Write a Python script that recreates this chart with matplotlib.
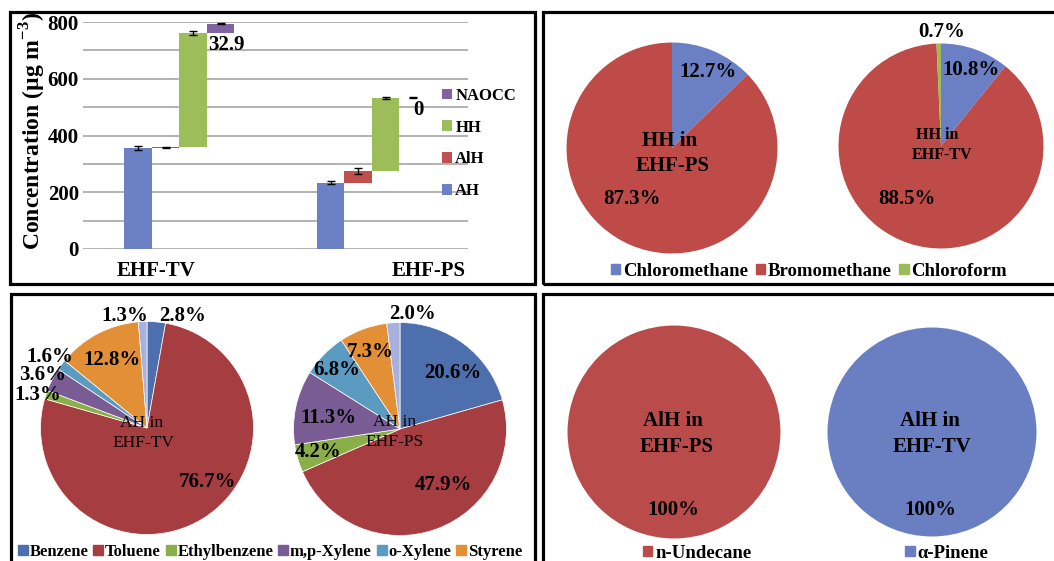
import matplotlib
matplotlib.use("Agg")
import matplotlib.pyplot as plt
from matplotlib.patches import Rectangle, Patch
import numpy as np

plt.rcParams["font.family"] = ["Liberation Serif", "DejaVu Serif"]
plt.rcParams["font.weight"] = "bold"
plt.rcParams["mathtext.fontset"] = "custom"
plt.rcParams["mathtext.rm"] = "Liberation Serif:bold"
plt.rcParams["mathtext.bf"] = "Liberation Serif:bold"

# ---- data ----
groups = ["EHF-TV", "EHF-PS"]
components = ["AH", "AlH", "HH", "NAOCC"]
tv_conc = [357, 2, 402, 32.9]
ps_conc = [234, 41, 258, 0]
tv_err = [7, 2, 6, 2]
ps_err = [6, 10, 4, 2]

hh_labels = ["Chloromethane", "Bromomethane", "Chloroform"]
hh_ps = [12.7, 87.3, 0.0]
hh_tv = [10.8, 88.5, 0.7]

ah_labels = ["Benzene", "Toluene", "Ethylbenzene", "m,p-Xylene", "o-Xylene", "Styrene", "Other"]
ah_tv = [2.8, 76.7, 1.3, 3.6, 1.6, 12.8, 1.3]
ah_ps = [20.6, 47.9, 4.2, 11.3, 6.8, 7.3, 2.0]

alh_ps_label = ["n-Undecane"]
alh_tv_label = ["α-Pinene"]
alh_ps = [100]
alh_tv = [100]

bar_colors = ["#6B80C5", "#C0504D", "#9DBD5A", "#8064A2"]
hh_colors = ["#6A7FC4", "#BE4B48", "#9BBB59"]
ah_colors = ["#4E6FAE", "#A63D40", "#8AAF48", "#7A5C95", "#5B9BC1", "#E28F36", "#A8B0DC"]

W, H = 1054, 561
fig = plt.figure(figsize=(W / 100, H / 100), dpi=100)


def px_axes(x0, y0, x1, y1):
    return fig.add_axes([x0 / W, 1 - y1 / H, (x1 - x0) / W, (y1 - y0) / H])


def ftext(px, py, s, size=15, weight="bold", **kw):
    fig.text(px / W, 1 - py / H, s, fontsize=size, weight=weight,
             ha="center", va="center", **kw)


def draw_pie(cx, cy, r, vals, colors, **kw):
    ax = px_axes(cx - r, cy - r, cx + r, cy + r)
    ax.pie(vals, colors=colors, startangle=90, counterclock=False, radius=1, **kw)
    ax.set_xlim(-1.005, 1.005)
    ax.set_ylim(-1.005, 1.005)
    ax.axis("off")
    return ax


# ---- panel borders ----
for (x0, y0, x1, y1) in [(10, 11.5, 534.5, 283.5), (542.5, 11.5, 1060, 283.5),
                         (11, 293.5, 534.5, 570), (542.5, 293.5, 1060, 570)]:
    fig.add_artist(Rectangle((x0 / W, 1 - y1 / H), (x1 - x0) / W, (y1 - y0) / H,
                             transform=fig.transFigure, fill=False,
                             edgecolor="black", lw=2.3))

# ---- waterfall bar chart ----
ax = px_axes(83, 22, 468, 249)
for g, (vals, errs) in enumerate([(tv_conc, tv_err), (ps_conc, ps_err)]):
    base = np.concatenate([[0], np.cumsum(vals)[:-1]])
    xs = np.arange(4) + 7 * g
    for i in range(4):
        ax.bar(xs[i], vals[i], bottom=base[i], width=1.0, color=bar_colors[i],
               label=components[i] if g == 0 else None, zorder=3)
        ax.errorbar(xs[i], base[i] + vals[i], yerr=errs[i], color="black",
                    capsize=3, lw=1, capthick=1, zorder=4)
    ax.text(xs[3] + 0.2, base[3] - 8, f"{vals[3]:g}", ha="center", va="top",
            fontsize=15, weight="bold")

ax.set_xlim(-2, 12)
ax.set_ylim(0, 800)
ax.set_yticks(np.arange(0, 801, 200))
ax.set_yticks(np.arange(100, 800, 200), minor=True)
ax.grid(axis="y", which="both", color="#A6A6A6", lw=1.2, zorder=0)
ax.tick_params(axis="y", which="both", length=0, labelsize=15, pad=3)
ax.set_xticks([0.65, 10.55])
ax.set_xticklabels(groups)
ax.tick_params(axis="x", length=0, labelsize=15, pad=9)
for s in ["top", "right", "left", "bottom"]:
    ax.spines[s].set_visible(False)
ax.set_ylabel(r"Concentration (µg m$^{-3}$)", fontsize=17, weight="bold")
ax.yaxis.set_label_coords(-0.09, 0.52)
h, l = ax.get_legend_handles_labels()
ax.legend(h[::-1], l[::-1], loc="upper left", bbox_to_anchor=(0.915, 0.74),
          frameon=False, fontsize=12, handlelength=0.6, handleheight=0.6,
          handletextpad=0.2, labelspacing=0.95, borderaxespad=0)

# ---- HH pies (top right) ----
draw_pie(672, 148, 106, hh_ps, hh_colors, wedgeprops=dict(edgecolor="none"))
ftext(708, 72, f"{hh_ps[0]:.1f}%")
ftext(632, 199, f"{hh_ps[1]:.1f}%")
ftext(670, 141, "HH in")
ftext(673, 166, "EHF-PS")

draw_pie(941, 146, 103, hh_tv, hh_colors, wedgeprops=dict(edgecolor="none"))
ftext(942, 32, f"{hh_tv[2]:.1f}%")
ftext(971, 70, f"{hh_tv[0]:.1f}%")
ftext(907, 199, f"{hh_tv[1]:.1f}%")
ftext(937, 135, "HH in", size=11.5)
ftext(942, 155, "EHF-TV", size=11.5)

fig.legend([Patch(color=c) for c in hh_colors], hh_labels, loc="center",
           bbox_to_anchor=(809 / W, 1 - 271 / H), ncol=3, frameon=False,
           fontsize=13.5, handlelength=0.5, handleheight=0.5,
           handletextpad=0.15, columnspacing=0.4)

# ---- AH pies (bottom left) ----
draw_pie(147, 428, 107, ah_tv, ah_colors, wedgeprops=dict(edgecolor="white", lw=0.5))
for (px, py), v in zip([(183, 316), (207, 482), (38, 395), (43, 375), (50, 357),
                        (112, 360), (125, 316)], ah_tv):
    ftext(px, py, f"{v:.1f}%")
ftext(142, 423, "AH in", size=12.5, weight="normal")
ftext(143, 443, "EHF-TV", size=12.5, weight="normal")

draw_pie(400, 429, 107, ah_ps, ah_colors, wedgeprops=dict(edgecolor="white", lw=0.5))
for (px, py), v in zip([(453, 373), (443, 485), (318, 452), (328, 418), (337, 370),
                        (370, 352), (413, 314)], ah_ps):
    ftext(px, py, f"{v:.1f}%")
ftext(395, 422, "AH in", size=12.5, weight="normal")
ftext(395, 442, "EHF-PS", size=12.5, weight="normal")

fig.legend([Patch(color=c) for c in ah_colors[:6]], ah_labels[:6], loc="center",
           bbox_to_anchor=(270 / W, 1 - 552 / H), ncol=6, frameon=False,
           fontsize=12, handlelength=0.6, handleheight=0.6,
           handletextpad=0.1, columnspacing=0.3)

# ---- AlH pies (bottom right) ----
draw_pie(674, 432, 107, alh_ps, ["#B94C4A"])
ftext(673, 421, "AlH in")
ftext(677, 447, "EHF-PS")
ftext(673, 510, f"{alh_ps[0]}%")
fig.legend([Patch(color="#B94C4A")], alh_ps_label, loc="center",
           bbox_to_anchor=(697 / W, 1 - 553 / H), frameon=False, fontsize=13.5,
           handlelength=0.5, handleheight=0.5, handletextpad=0.15)

draw_pie(932, 432, 105, alh_tv, ["#6A7EC2"])
ftext(930, 421, "AlH in")
ftext(932, 447, "EHF-TV")
ftext(930, 510, f"{alh_tv[0]}%")
fig.legend([Patch(color="#6A7EC2")], alh_tv_label, loc="center",
           bbox_to_anchor=(947 / W, 1 - 553 / H), frameon=False, fontsize=13.5,
           handlelength=0.5, handleheight=0.5, handletextpad=0.15)

fig.savefig("out.png", dpi=100)
